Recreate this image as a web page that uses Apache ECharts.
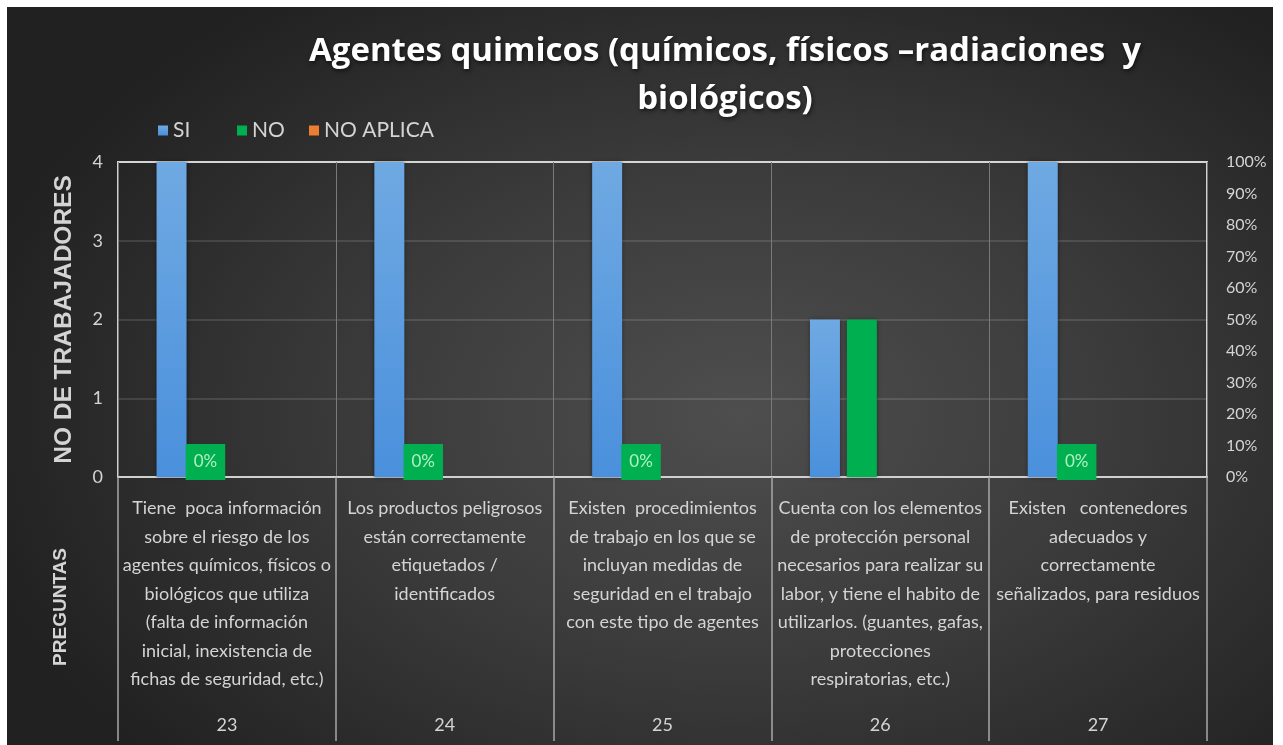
<!DOCTYPE html>
<html>
<head>
<meta charset="utf-8">
<script src="https://cdn.jsdelivr.net/npm/echarts@6/dist/echarts.min.js"></script>
<style>
  html, body { margin: 0; padding: 0; background: #ffffff; }
  #bg { position: absolute; left: 7px; top: 7px; width: 1266px; height: 738px;
        background: radial-gradient(ellipse 62% 70% at 58% 55%, #4e4e4e 0%, #3b3b3b 48%, #212121 100%); }
  #chart { position: absolute; left: 0; top: 0; width: 1283px; height: 745px; }
</style>
</head>
<body>
<div id="bg"></div>
<div id="chart"></div>
<script>
// ---- data ----
const questionNumbers = ['23', '24', '25', '26', '27'];
const questions = [
  'Tiene  poca información\nsobre el riesgo de los\nagentes químicos, físicos o\nbiológicos que utiliza\n(falta de información\ninicial, inexistencia de\nfichas de seguridad, etc.)',
  'Los productos peligrosos\nestán correctamente\netiquetados /\nidentificados',
  'Existen  procedimientos\nde trabajo en los que se\nincluyan medidas de\nseguridad en el trabajo\ncon este tipo de agentes',
  'Cuenta con los elementos\nde protección personal\nnecesarios para realizar su\nlabor, y tiene el habito de\nutilizarlos. (guantes, gafas,\nprotecciones\nrespiratorias, etc.)',
  'Existen   contenedores\nadecuados y\ncorrectamente\nseñalizados, para residuos'
];
const siValues = [4, 4, 4, 2, 4];
const noValues = [0, 0, 0, 2, 0];
const noAplicaValues = [0, 0, 0, 0, 0];
const porcentajeValues = [null, null, null, null, null];
const noLabels = ['0%', '0%', '0%', '', '0%'];
const leftTicks = [0, 1, 2, 3, 4];
const rightTickPercents = [0, 10, 20, 30, 40, 50, 60, 70, 80, 90, 100];

const FONT = 'Lato, "Open Sans", sans-serif';
const txt = '#d4d4d4';

const chart = echarts.init(document.getElementById('chart'), null, { renderer: 'canvas' });

const legendBase = {
  top: 115, itemWidth: 10, itemHeight: 10, icon: 'rect', itemGap: 30,
  textStyle: { color: txt, fontSize: 21, fontFamily: FONT }
};

chart.setOption({
  backgroundColor: 'transparent',
  animation: false,
  title: {
    text: 'Agentes quimicos (químicos, físicos –radiaciones  y\nbiológicos)',
    left: 720, top: 23, textAlign: 'center',
    textStyle: {
      color: '#ffffff', fontSize: 33, fontWeight: 'bold', fontFamily: '"Open Sans", Lato, sans-serif', lineHeight: 48,
      textShadowColor: 'rgba(0,0,0,0.6)', textShadowBlur: 4, textShadowOffsetX: 1, textShadowOffsetY: 2
    }
  },
  legend: [
    Object.assign({}, legendBase, { left: 153, data: ['SI'] }),
    Object.assign({}, legendBase, { left: 232, data: ['NO'] }),
    Object.assign({}, legendBase, { left: 304, data: ['NO APLICA'] })
  ],
  grid: {
    left: 118, right: 76, top: 162, bottom: 268,
    show: true, borderColor: '#d0d0d0', borderWidth: 2, backgroundColor: 'transparent'
  },
  xAxis: [
    {
      type: 'category', data: questions, position: 'bottom',
      axisLine: { show: true, lineStyle: { color: '#d0d0d0', width: 2 } },
      axisTick: { show: true, interval: 0, length: 264, lineStyle: { color: '#a8a8a8', width: 1.5 } },
      axisLabel: { interval: 0, color: txt, fontSize: 18, lineHeight: 28.5, margin: 17, fontFamily: FONT },
      splitLine: { show: true, interval: 0, lineStyle: { color: '#7a7a7a', width: 1 } }
    },
    {
      type: 'category', data: questionNumbers, position: 'bottom', offset: 231,
      axisLine: { show: false }, axisTick: { show: false },
      axisLabel: { interval: 0, color: txt, fontSize: 18, margin: 8, fontFamily: FONT },
      splitLine: { show: false }
    }
  ],
  yAxis: [
    {
      type: 'value', min: leftTicks[0], max: leftTicks[leftTicks.length - 1], interval: 1,
      name: 'NO DE TRABAJADORES', nameLocation: 'middle', nameGap: 41,
      nameTextStyle: { color: txt, fontSize: 24.5, fontWeight: 'bold', fontFamily: '"Liberation Sans", Arial, sans-serif' },
      axisLine: { show: false }, axisTick: { show: false },
      axisLabel: { color: txt, fontSize: 18, margin: 15, fontFamily: FONT },
      splitLine: { show: true, lineStyle: { color: 'rgba(255,255,255,0.16)', width: 1.5 } }
    },
    {
      type: 'value', min: rightTickPercents[0] / 100, max: rightTickPercents[rightTickPercents.length - 1] / 100, interval: 0.1,
      position: 'right',
      axisLine: { show: false }, axisTick: { show: false },
      axisLabel: { color: txt, fontSize: 16, margin: 19, fontFamily: FONT,
        formatter: v => Math.round(v * 100) + '%' },
      splitLine: { show: false }
    }
  ],
  series: [
    {
      name: 'SI', type: 'bar', data: siValues, barWidth: 30, barGap: '23%',
      itemStyle: {
        color: new echarts.graphic.LinearGradient(0, 0, 0, 1, [
          { offset: 0, color: '#6fa9e2' }, { offset: 1, color: '#4a90dc' }
        ]),
        shadowColor: 'rgba(0,0,0,0.45)', shadowBlur: 4
      }
    },
    {
      name: 'NO', type: 'bar', barWidth: 30, barGap: '23%',
      data: noValues.map((v, i) => ({ value: v, label: { show: noLabels[i] !== '' } })),
      itemStyle: { color: '#00b050', shadowColor: 'rgba(0,0,0,0.45)', shadowBlur: 4 },
      label: {
        show: true, position: 'inside', offset: [-3, -15],
        formatter: p => noLabels[p.dataIndex],
        backgroundColor: '#00b050', color: '#b2f2c0', fontSize: 17, fontFamily: FONT,
        padding: [10, 8, 9, 8]
      }
    },
    {
      name: 'NO APLICA', type: 'bar', data: noAplicaValues, barWidth: 30, barGap: '23%',
      itemStyle: { color: '#ed7d31' }
    },
    {
      name: 'PORCENTAJE', type: 'bar', data: porcentajeValues, barWidth: 30, barGap: '23%',
      yAxisIndex: 1, itemStyle: { color: '#a5a5a5' }
    }
  ],
  graphic: [
    {
      type: 'text', left: 51, top: 548, rotation: Math.PI / 2,
      style: { text: 'PREGUNTAS', fill: txt, fontSize: 19, fontWeight: 'bold',
        fontFamily: '"Liberation Sans", Arial, sans-serif' }
    }
  ]
});
</script>
</body>
</html>
